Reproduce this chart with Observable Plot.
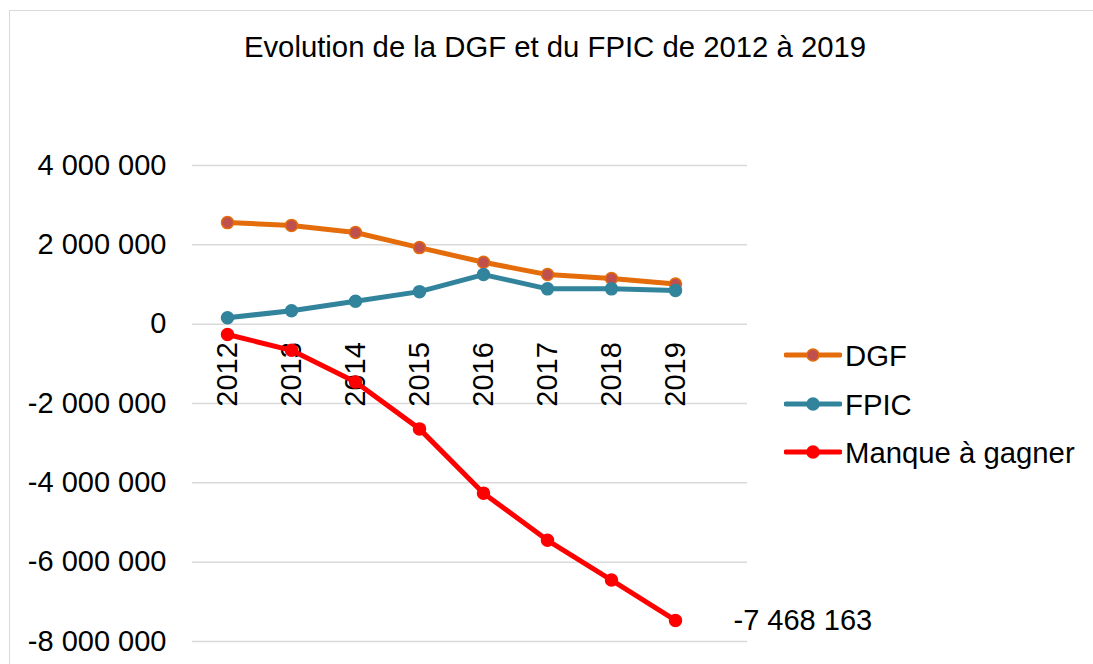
<!DOCTYPE html>
<html><head><meta charset="utf-8">
<script src="https://cdn.jsdelivr.net/npm/d3@7"></script>
<script src="https://cdn.jsdelivr.net/npm/@observablehq/plot@0.6"></script>
<style>
body{margin:0;background:#fff;}
#wrap{position:relative;width:1093px;height:664px;overflow:hidden;font-family:"Liberation Sans",Arial,sans-serif;color:#000;background:#fff;}
#frame{position:absolute;left:9px;top:10px;width:1200px;height:800px;border-left:1px solid #d9d9d9;border-top:1px solid #d9d9d9;}
#title{position:absolute;left:0;width:1110px;top:32px;text-align:center;font-size:29.3px;line-height:29px;white-space:nowrap;}
#chart{position:absolute;left:0;top:0;}
.leg{position:absolute;left:784px;height:30px;display:flex;align-items:center;font-size:29.3px;line-height:29px;white-space:nowrap;}
.leg svg{margin-right:3px;}
</style></head>
<body><div id="wrap"><div id="frame"></div><div id="chart"></div><div id="title"></div><div id="legend"></div></div>
<script>
const title = "Evolution de la DGF et du FPIC de 2012 à 2019";
const years = [2012, 2013, 2014, 2015, 2016, 2017, 2018, 2019];
const seriesNames = ["DGF", "FPIC", "Manque à gagner"];
const dgf = [2560000, 2490000, 2310000, 1930000, 1560000, 1250000, 1150000, 1010000];
const fpic = [160000, 340000, 580000, 820000, 1250000, 890000, 890000, 850000];
const manque = [-260000, -660000, -1460000, -2640000, -4260000, -5450000, -6450000, -7468163];
const yTicks = [-8000000, -6000000, -4000000, -2000000, 0, 2000000, 4000000];
const lineColors = ["#E46C0A", "#31849B", "#FF0000"];
const markerFills = ["#C0504D", "#31849B", "#FF0000"];
const markerStrokes = ["#E46C0A", "#31849B", "#FF0000"];

const locale = d3.formatLocale({decimal: ",", thousands: " ", grouping: [3], currency: ["", ""], minus: "-"});
const fmt = locale.format(",d");

document.getElementById("title").textContent = title;

const seriesValues = [dgf, fpic, manque];
const lastIdx = years.length - 1;
const FS = 29;

const marks = [
  Plot.gridY(yTicks, {stroke: "#d9d9d9", strokeOpacity: 1, strokeWidth: 1.5}),
  Plot.axisY(yTicks, {tickSize: 0, tickPadding: 26, tickFormat: fmt, label: null, fontSize: FS}),
  Plot.text(years, {x: d => d, y: () => 0, text: d => String(d), rotate: -90, textAnchor: "end", lineAnchor: "middle", dy: 18, fontSize: FS})
];
seriesValues.forEach((vals, s) => {
  marks.push(Plot.line(vals, {x: (d, i) => years[i], y: d => d, stroke: lineColors[s], strokeWidth: 5, strokeLinejoin: "round", strokeLinecap: "round"}));
  marks.push(Plot.dot(vals, {x: (d, i) => years[i], y: d => d, r: 6, fill: markerFills[s], stroke: markerStrokes[s], strokeWidth: 1.5}));
});
marks.push(Plot.text([manque[lastIdx]], {x: () => years[lastIdx], y: d => d, text: d => fmt(d), textAnchor: "start", lineAnchor: "middle", dx: 58, fontSize: FS}));

const chart = Plot.plot({
  width: 1093, height: 664,
  marginTop: 165, marginBottom: 23, marginLeft: 192, marginRight: 346,
  style: {fontFamily: "Liberation Sans, Arial, sans-serif", fontSize: FS + "px", color: "#000", background: "transparent", overflow: "visible"},
  x: {type: "point", domain: years, range: [224.3, 676.7], padding: 0, axis: null},
  y: {domain: [-8000000, 4000000], axis: null},
  marks
});
document.getElementById("chart").appendChild(chart);

const legendTops = [340, 389, 437];
const legend = document.getElementById("legend");
seriesNames.forEach((name, s) => {
  const row = document.createElement("div");
  row.className = "leg";
  row.style.top = legendTops[s] + "px";
  row.innerHTML = `<svg width="58" height="30"><line x1="2" y1="15" x2="56" y2="15" stroke="${lineColors[s]}" stroke-width="5" stroke-linecap="round"/><circle cx="29" cy="15" r="6" fill="${markerFills[s]}" stroke="${markerStrokes[s]}" stroke-width="1.5"/></svg><span>${name}</span>`;
  legend.appendChild(row);
});
</script></body></html>
